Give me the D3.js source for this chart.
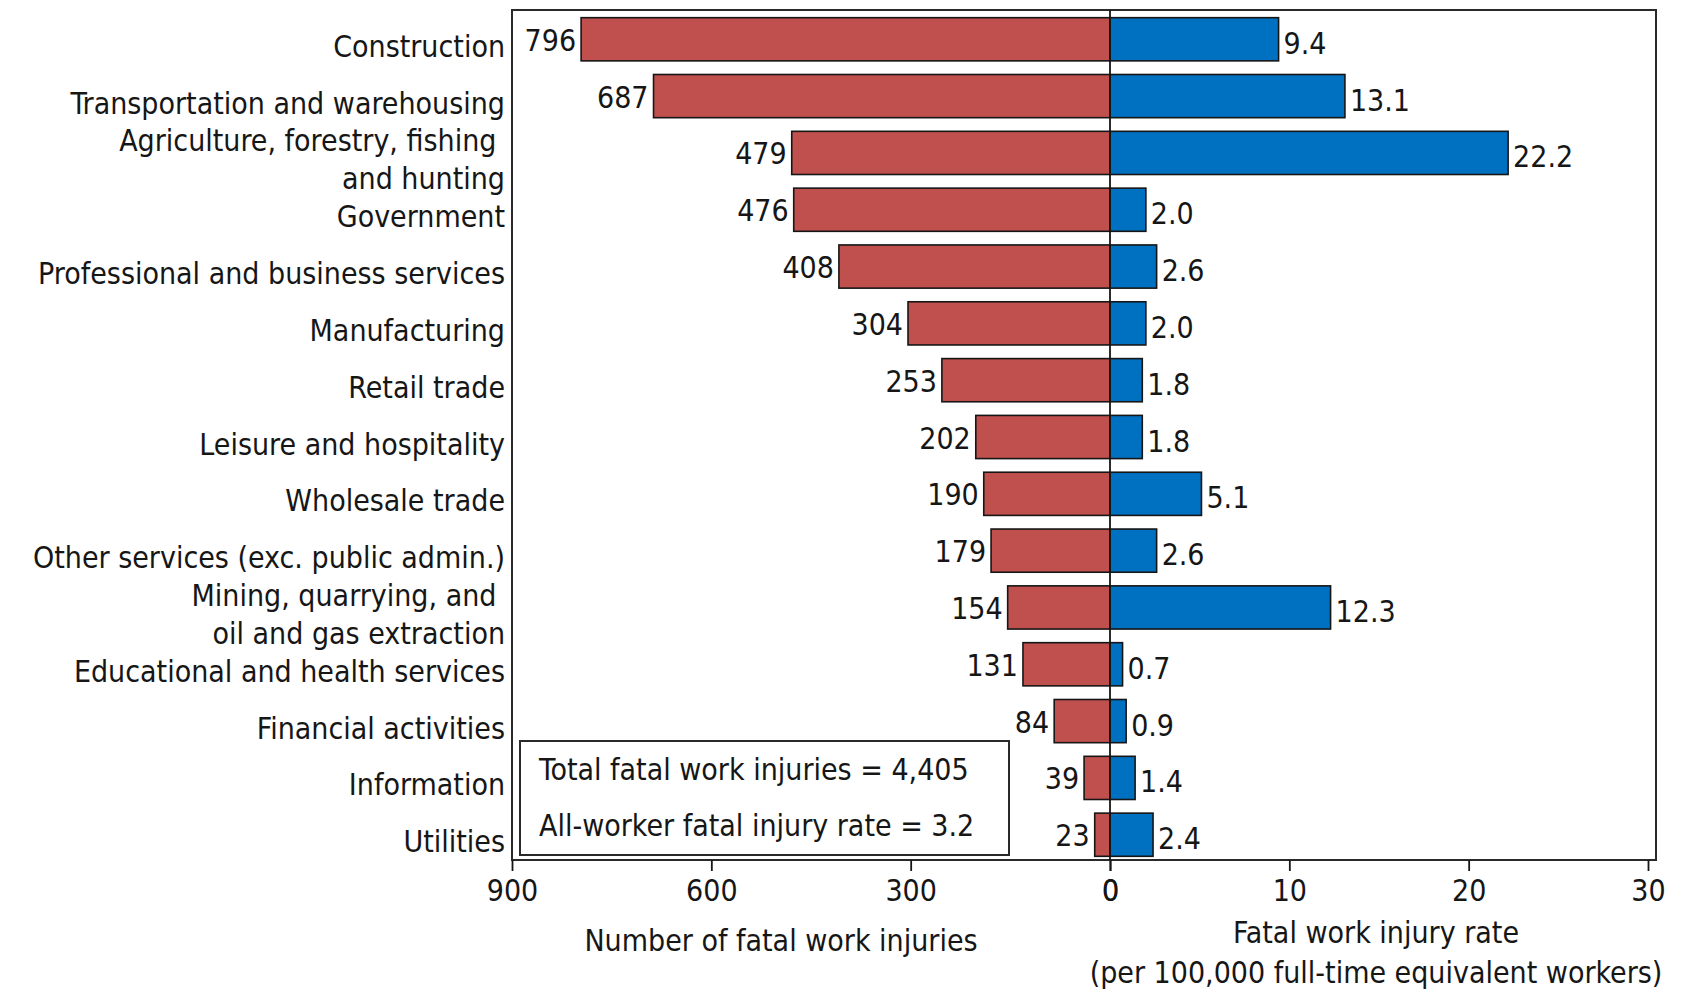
<!DOCTYPE html>
<html><head><meta charset="utf-8">
<script src="https://cdn.jsdelivr.net/npm/d3@7"></script>
<style>
body{margin:0;background:#fff}
svg text{font-family:"DejaVu Sans Condensed","DejaVu Sans",sans-serif;font-stretch:condensed;fill:#161616;font-size:30px;white-space:pre}
</style></head><body>
<svg id="c" width="1688" height="991"></svg>
<script>
// ---- data ----
const categories = [
  "Construction",
  "Transportation and warehousing",
  "Agriculture, forestry, fishing \nand hunting",
  "Government",
  "Professional and business services",
  "Manufacturing",
  "Retail trade",
  "Leisure and hospitality",
  "Wholesale trade",
  "Other services (exc. public admin.)",
  "Mining, quarrying, and \noil and gas extraction",
  "Educational and health services",
  "Financial activities",
  "Information",
  "Utilities"
];
const fatalInjuries = [796, 687, 479, 476, 408, 304, 253, 202, 190, 179, 154, 131, 84, 39, 23];
const fatalRates = [9.4, 13.1, 22.2, 2.0, 2.6, 2.0, 1.8, 1.8, 5.1, 2.6, 12.3, 0.7, 0.9, 1.4, 2.4];
const countTicks = [900, 600, 300, 0];
const rateTicks = [0, 10, 20, 30];
const summaryLines = ["Total fatal work injuries = 4,405", "All-worker fatal injury rate = 3.2"];
const countTitle = ["Number of fatal work injuries"];
const rateTitle = ["Fatal work injury rate", "(per 100,000 full-time equivalent workers)"];

// ---- layout ----
const svg = d3.select("#c");
const frame = {left: 512, right: 1656, top: 10, bottom: 860};
const zeroX = 1110;
const xL = d3.scaleLinear().domain([900, 0]).range([frame.left, zeroX]);
const xR = d3.scaleLinear().domain([0, 30]).range([zeroX, 1648]);
const y = d3.scaleBand().domain(categories).range([12, 862]).paddingInner(0.24).paddingOuter(0.1);
const RED = "#C0504D", BLUE = "#0070C0", INK = "#161616";

// frame
svg.append("rect").attr("x", frame.left).attr("y", frame.top)
  .attr("width", frame.right - frame.left).attr("height", frame.bottom - frame.top)
  .attr("fill", "#fff").attr("stroke", "#2a2a2a").attr("stroke-width", 2);

// bars
const rows = categories.map((c, i) => ({c, n: fatalInjuries[i], r: fatalRates[i]}));
svg.append("g").selectAll("rect").data(rows).join("rect")
  .attr("x", d => xL(d.n)).attr("y", d => y(d.c))
  .attr("width", d => xL(0) - xL(d.n)).attr("height", y.bandwidth())
  .attr("fill", RED).attr("stroke", INK).attr("stroke-width", 1.6);
svg.append("g").selectAll("rect").data(rows).join("rect")
  .attr("x", xR(0)).attr("y", d => y(d.c))
  .attr("width", d => xR(d.r) - xR(0)).attr("height", y.bandwidth())
  .attr("fill", BLUE).attr("stroke", INK).attr("stroke-width", 1.6);

// zero line
svg.append("line").attr("x1", zeroX).attr("x2", zeroX).attr("y1", frame.top).attr("y2", frame.bottom)
  .attr("stroke", INK).attr("stroke-width", 1.8);

// value labels
svg.append("g").selectAll("text").data(rows).join("text")
  .attr("x", d => xL(d.n) - 5).attr("y", d => y(d.c) + y.bandwidth() / 2 + 1)
  .attr("dominant-baseline", "central").attr("text-anchor", "end")
  .text(d => d3.format("d")(d.n));
svg.append("g").selectAll("text").data(rows).join("text")
  .attr("x", d => xR(d.r) + 5).attr("y", d => y(d.c) + y.bandwidth() / 2 + 4)
  .attr("dominant-baseline", "central").attr("text-anchor", "start")
  .text(d => d3.format(".1f")(d.r));

// category labels
const catG = svg.append("g");
categories.forEach(c => {
  const lines = c.split("\n");
  const cy = y(c) + y.bandwidth() / 2 + 7;
  const lh = 38;
  const t = catG.append("text").attr("text-anchor", "end").attr("x", 505);
  lines.forEach((ln, j) => {
    t.append("tspan").attr("x", 505)
      .attr("y", cy + (j - (lines.length - 1) / 2) * lh)
      .attr("dominant-baseline", "central").text(ln);
  });
});

// bottom axes
function styleAxis(g) {
  g.select(".domain").remove();
  g.selectAll(".tick line").attr("stroke", INK).attr("stroke-width", 1.8);
  g.selectAll(".tick text").attr("fill", INK).style("font-size", "30px")
    .style("font-family", null);
}
svg.append("g").attr("transform", `translate(0,${frame.bottom})`)
  .call(d3.axisBottom(xL).tickValues(countTicks).tickSize(11).tickPadding(9).tickFormat(d3.format("d")))
  .call(styleAxis);
svg.append("g").attr("transform", `translate(0,${frame.bottom})`)
  .call(d3.axisBottom(xR).tickValues(rateTicks).tickSize(11).tickPadding(9).tickFormat(d3.format("d")))
  .call(styleAxis);
svg.selectAll(".tick text").attr("font-family", null).attr("font-size", null);

// axis titles
svg.append("text").attr("x", 781).attr("y", 951).attr("text-anchor", "middle").text(countTitle[0]);
rateTitle.forEach((t, i) => {
  svg.append("text").attr("x", 1376).attr("y", 943 + i * 40).attr("text-anchor", "middle").text(t);
});

// summary box
svg.append("rect").attr("x", 520).attr("y", 741).attr("width", 489).attr("height", 114)
  .attr("fill", "#fff").attr("stroke", "#2a2a2a").attr("stroke-width", 2);
summaryLines.forEach((t, i) => {
  svg.append("text").attr("x", 539).attr("y", 780 + i * 56).text(t);
});
</script>
</body></html>
